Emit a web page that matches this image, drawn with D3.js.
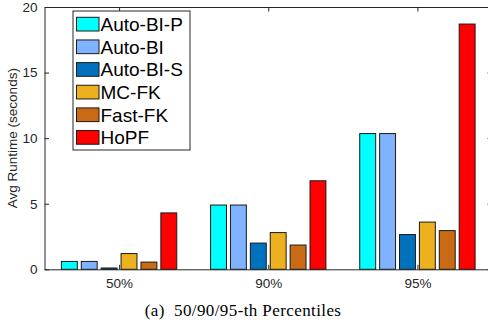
<!DOCTYPE html>
<html>
<head>
<meta charset="utf-8">
<script src="https://cdn.jsdelivr.net/npm/d3@7"></script>
<style>
  html, body { margin: 0; padding: 0; background: #fff; }
  svg { display: block; }
</style>
</head>
<body>
<svg id="chart" width="488" height="327"></svg>
<script>
const categories = ["50%", "90%", "95%"];
const seriesNames = ["Auto-BI-P", "Auto-BI", "Auto-BI-S", "MC-FK", "Fast-FK", "HoPF"];
const seriesColors = ["#00FFFF", "#80B3FF", "#0072BD", "#EDB120", "#C96B14", "#FF0000"];
const autoBIP = [0.6, 4.9, 10.35];
const autoBI = [0.6, 4.9, 10.35];
const autoBIS = [0.1, 2.0, 2.65];
const mcFK = [1.2, 2.8, 3.6];
const fastFK = [0.55, 1.85, 2.95];
const hoPF = [4.3, 6.75, 18.7];
const yTicks = [0, 5, 10, 15, 20];
const caption = "(a)  50/90/95-th Percentiles";
const yTitle = "Avg Runtime (seconds)";

const series = [autoBIP, autoBI, autoBIS, mcFK, fastFK, hoPF];

const svg = d3.select("#chart");
const pLeft = 44.5, pRight = 492, pTop = 7, pBottom = 269.3;
const axisColor = "#262626";

const x = d3.scaleLinear().domain([0.5, 3.5]).range([pLeft, pRight]);
const y = d3.scaleLinear().domain([0, 20]).range([pBottom, pTop]);

const nS = series.length;
const groupWidth = Math.min(0.8, nS / (nS + 1.5));
const pitch = groupWidth / nS;
const barW = pitch * 0.8;

// bars
series.forEach((vals, si) => {
  svg.append("g").selectAll("rect")
    .data(vals)
    .join("rect")
    .attr("x", (d, ci) => x(ci + 1 + (si - (nS - 1) / 2) * pitch - barW / 2))
    .attr("width", (d, ci) => x(barW) - x(0))
    .attr("y", d => y(d))
    .attr("height", d => y(0) - y(d))
    .attr("fill", seriesColors[si])
    .attr("stroke", "#1a1a1a")
    .attr("stroke-width", 1);
});

const tickLen = 4.5;
const font = "'Liberation Sans', Arial, sans-serif";

// left axis
const yAxis = d3.axisLeft(y).tickValues(yTicks).tickSizeInner(-tickLen).tickSizeOuter(0).tickPadding(7);
const gy = svg.append("g").attr("transform", `translate(${pLeft},0)`).call(yAxis);
// right axis
const yAxisR = d3.axisRight(y).tickValues(yTicks).tickSizeInner(-tickLen).tickSizeOuter(0).tickFormat("");
const gyr = svg.append("g").attr("transform", `translate(${pRight},0)`).call(yAxisR);
// bottom axis
const xAxis = d3.axisBottom(x).tickValues([1, 2, 3]).tickFormat((d, i) => categories[i])
  .tickSizeInner(-tickLen).tickSizeOuter(0).tickPadding(9);
const gx = svg.append("g").attr("transform", `translate(0,${pBottom})`).call(xAxis);
// top axis
const xAxisT = d3.axisTop(x).tickValues([1, 2, 3]).tickFormat("").tickSizeInner(-tickLen).tickSizeOuter(0);
const gxt = svg.append("g").attr("transform", `translate(0,${pTop})`).call(xAxisT);

[gy, gyr, gx, gxt].forEach(g => {
  g.selectAll("path.domain").attr("stroke", axisColor).attr("stroke-width", 1);
  g.selectAll(".tick line").attr("stroke", axisColor).attr("stroke-width", 1);
  g.selectAll(".tick text").attr("fill", axisColor).style("font-family", font).style("font-size", "13.5px");
});

// y title
svg.append("text")
  .attr("transform", `translate(17,${(pTop + pBottom) / 2}) rotate(-90)`)
  .attr("text-anchor", "middle")
  .attr("fill", axisColor)
  .style("font-family", font)
  .style("font-size", "13.5px")
  .text(yTitle);

// legend
const lg = svg.append("g");
lg.append("rect").attr("x", 73).attr("y", 11).attr("width", 117).attr("height", 139)
  .attr("fill", "#fff").attr("stroke", axisColor).attr("stroke-width", 1);
const rowH = 22.65;
seriesNames.forEach((name, i) => {
  const ry = 17.3 + i * rowH;
  lg.append("rect").attr("x", 76.5).attr("y", ry).attr("width", 22.5).attr("height", 13.7)
    .attr("fill", seriesColors[i]).attr("stroke", "#1a1a1a").attr("stroke-width", 1);
  lg.append("text").attr("x", 100.5).attr("y", ry + 13.6)
    .attr("fill", "#000")
    .style("font-family", font).style("font-size", "19px")
    .text(name);
});

// caption
svg.append("text")
  .attr("x", 243).attr("y", 316)
  .attr("text-anchor", "middle")
  .attr("fill", "#000")
  .style("font-family", "'Liberation Serif', 'DejaVu Serif', serif")
  .style("font-size", "17px")
  .style("letter-spacing", "0.4px")
  .style("white-space", "pre")
  .attr("xml:space", "preserve")
  .text(caption);
</script>
</body>
</html>
